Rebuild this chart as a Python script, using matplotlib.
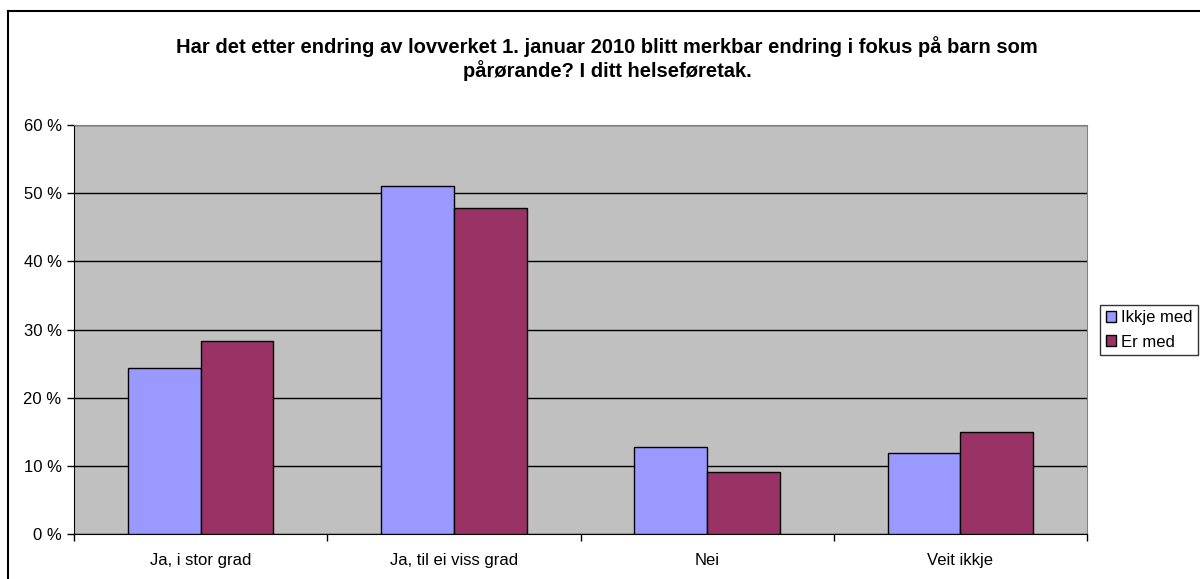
import numpy as np
import matplotlib.pyplot as plt
from matplotlib.lines import Line2D

# --- Data ---
categories = ["Ja, i stor grad", "Ja, til ei viss grad", "Nei", "Veit ikkje"]
ikkje_med = [24.4, 51.0, 12.8, 11.9]
er_med = [28.3, 47.8, 9.1, 14.9]
series_names = ["Ikkje med", "Er med"]
title = ("Har det etter endring av lovverket 1. januar 2010 blitt merkbar endring i fokus på barn som\n"
         "pårørande? I ditt helseføretak.")

plt.rcParams['font.family'] = ['Liberation Sans', 'DejaVu Sans']

fig = plt.figure(figsize=(12, 5.79), dpi=100)
ax = fig.add_axes([74 / 1200, 1 - 534 / 579, 1013 / 1200, 409 / 579])
ax.set_facecolor('#C0C0C0')

x = np.arange(len(categories))
w = 0.287
ax.bar(x - w / 2, ikkje_med, w, color='#9999FF', edgecolor='black', linewidth=1,
       label=series_names[0], zorder=3)
ax.bar(x + w / 2, er_med, w, color='#993366', edgecolor='black', linewidth=1,
       label=series_names[1], zorder=3)

ax.set_xlim(-0.5, len(categories) - 0.5)
ax.set_ylim(0, 60)
ax.set_yticks(range(0, 61, 10))
ax.set_yticklabels([f"{v} %" for v in range(0, 61, 10)], fontsize=12)
ax.yaxis.grid(True, color='black', linewidth=1, zorder=1)
ax.set_axisbelow(True)

# category labels centred, ticks between categories
ax.set_xticks(x)
ax.set_xticklabels(categories, fontsize=12)
ax.tick_params(axis='x', length=0, pad=14)
ax.set_xticks(np.arange(-0.5, len(categories), 1), minor=True)
ax.tick_params(axis='x', which='minor', length=5, width=1, direction='out')
ax.tick_params(axis='y', length=5, width=1, direction='out', pad=4)

for side in ['top', 'right']:
    ax.spines[side].set_color('#808080')
ax.spines['left'].set_color('black')
ax.spines['bottom'].set_color('black')

fig.text(0.506, 1 - 58.5 / 579, title, ha='center', va='center', fontsize=14.5,
         fontweight='bold', linespacing=1.2)

leg = fig.legend(loc='center left', bbox_to_anchor=(1100 / 1200, 1 - 330 / 579),
                 fontsize=12, frameon=True, fancybox=False, edgecolor='black',
                 handlelength=0.6, handleheight=0.6, handletextpad=0.3,
                 borderpad=0.35, labelspacing=0.55, borderaxespad=0)
leg.get_frame().set_linewidth(1)

# outer chart border (left and top visible)
fig.add_artist(Line2D([8 / 1200, 8 / 1200], [0, 1 - 11 / 579], color='black', lw=1.5))
fig.add_artist(Line2D([8 / 1200, 1], [1 - 11 / 579, 1 - 11 / 579], color='black', lw=1.5))

fig.savefig('out.png', dpi=100)
